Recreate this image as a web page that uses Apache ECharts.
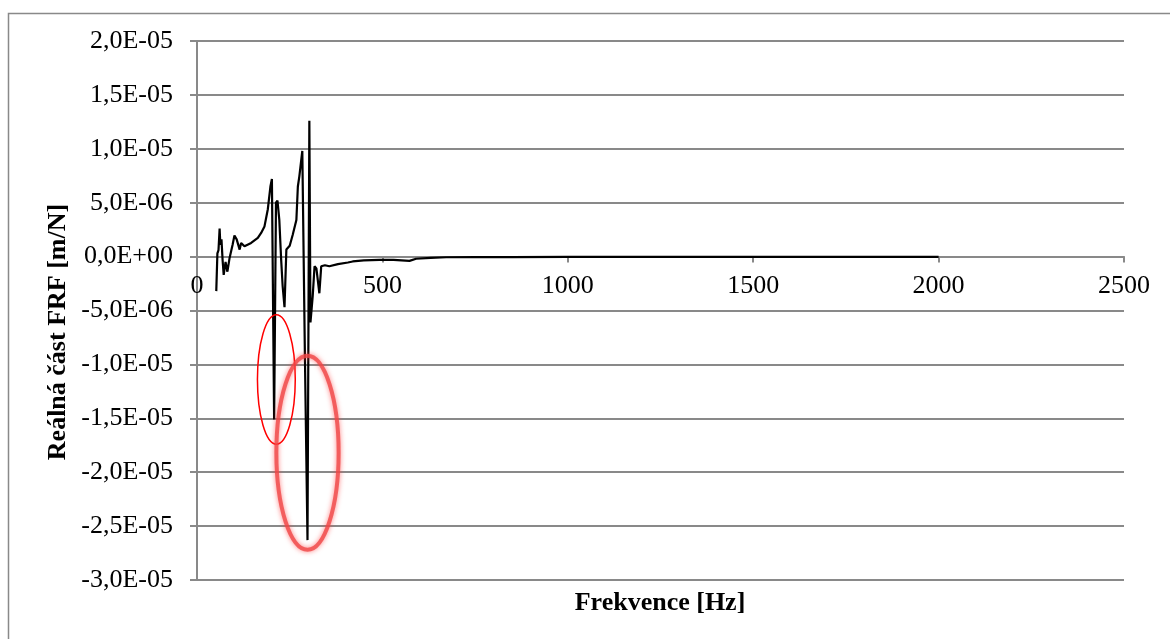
<!DOCTYPE html>
<html>
<head>
<meta charset="utf-8">
<script src="https://cdn.jsdelivr.net/npm/echarts@6/dist/echarts.min.js"></script>
<style>
html,body{margin:0;padding:0;background:#fff;}
#main{width:1170px;height:639px;}
</style>
</head>
<body>
<div id="main"></div>
<script>
// Frequency [Hz]
const freqHz = [52, 55, 58, 61, 63, 66, 69, 72, 77, 82,
  88, 96, 101, 107, 110, 115, 119, 128, 146, 164,
  173, 182, 191, 198, 202, 208, 213, 217, 222, 227,
  231, 236, 241, 250, 258, 268, 272, 276, 284, 291,
  298, 303, 306, 312, 317, 322, 330, 335, 345, 357,
  380, 407, 420, 450, 492, 530, 573, 591, 630, 672,
  750, 850, 1000, 1200, 1400, 1600, 1800, 2000];
// Real part of FRF, in units of 1e-6 m/N
const realPartMicro = [-3.2, 0.3, 0.6, 2.6, 1.1, 1.6, -0.3, -1.7, -0.5, -1.4,
  -0.1, 1.1, 1.95, 1.6, 1.58, 0.65, 1.27, 0.96, 1.27, 1.73,
  2.2, 2.8, 4.4, 6.5, 7.2, -15.1, 5.0, 5.2, 3.4, -0.3,
  -2.75, -4.7, 0.65, 1.0, 2.0, 3.4, 6.5, 7.45, 9.8, -9.2,
  -26.3, 12.6, -6.1, -3.7, -0.9, -1.1, -3.4, -0.9, -0.8, -0.9,
  -0.7, -0.55, -0.45, -0.35, -0.3, -0.3, -0.4, -0.2, -0.12, -0.06,
  -0.05, -0.04, -0.03, -0.03, -0.03, -0.03, -0.03, -0.03];
const xTitle = 'Frekvence [Hz]';
const yTitle = 'Reálná část FRF [m/N]';
const yMin = -3e-5, yMax = 2e-5, yStep = 5e-6;
// annotation ellipses: [centerFreq, centerValue(1e-6), radiusFreq, radiusValue(1e-6)]
const marks = [[214, -11.4, 51, 6.0], [298, -18.2, 84, 9.0]];

const seriesData = freqHz.map((f, i) => [f, realPartMicro[i] * 1e-6]);

function fmtY(v) {
  const s = v.toExponential(1).split('e');
  const m = s[0].replace('.', ',');
  const e = parseInt(s[1], 10);
  const sign = e < 0 ? '-' : '+';
  const ea = Math.abs(e);
  return m + 'E' + sign + (ea < 10 ? '0' + ea : '' + ea);
}

const W = 1170, H = 639;
const gridL = 197, gridR = 46, gridT = 41, gridB = 59;
const plotH = H - gridT - gridB;
// put the x axis on the y = 0 line
const xOffset = -plotH * (0 - yMin) / (yMax - yMin);

const gray = '#898989';
const font = '"Liberation Serif", "Times New Roman", serif';
const chart = echarts.init(document.getElementById('main'));
chart.setOption({
  animation: false,
  backgroundColor: '#fff',
  grid: {left: gridL, right: gridR, top: gridT, bottom: gridB},
  xAxis: {
    type: 'value', min: 0, max: 2500, interval: 500, position: 'bottom', offset: xOffset,
    axisLine: {onZero: false, lineStyle: {color: gray, width: 2}},
    axisTick: {show: true, length: 6, lineStyle: {color: gray, width: 2}},
    axisLabel: {color: '#000', fontFamily: font, fontSize: 26, margin: 17, formatter: v => String(v)},
    splitLine: {show: false}
  },
  yAxis: {
    type: 'value', min: yMin, max: yMax, interval: yStep,
    axisLine: {show: true, onZero: false, lineStyle: {color: gray, width: 2}},
    axisTick: {show: true, length: 7, lineStyle: {color: gray, width: 2}},
    axisLabel: {color: '#000', fontFamily: font, fontSize: 26, margin: 24, formatter: fmtY},
    splitLine: {show: true, lineStyle: {color: gray, width: 2}}
  },
  series: [{
    type: 'line', data: seriesData, showSymbol: false, symbol: 'none',
    lineStyle: {color: '#000', width: 2.2}, z: 3
  }]
});

const els = [
  {type: 'rect', shape: {x: 8.5, y: 13.5, width: 1300, height: 800},
   style: {fill: 'none', stroke: gray, lineWidth: 1.5}, z: -1, silent: true},
  {type: 'text', x: 660, y: 603,
   style: {text: xTitle, font: 'bold 26px ' + font, fill: '#000', align: 'center', verticalAlign: 'middle', textAlign: 'center', textVerticalAlign: 'middle'}},
  {type: 'text', x: 58, y: 332, rotation: Math.PI / 2,
   style: {text: yTitle, font: 'bold 26px ' + font, fill: '#000', align: 'center', verticalAlign: 'middle', textAlign: 'center', textVerticalAlign: 'middle'}}
];
marks.forEach((m, i) => {
  const c = chart.convertToPixel({gridIndex: 0}, [m[0], m[1] * 1e-6]);
  const e = chart.convertToPixel({gridIndex: 0}, [m[0] + m[2], (m[1] + m[3]) * 1e-6]);
  const rx = Math.abs(e[0] - c[0]), ry = Math.abs(e[1] - c[1]);
  els.push({
    type: 'ellipse', shape: {cx: c[0], cy: c[1], rx: rx, ry: ry}, z: 10, silent: true,
    style: i === 0
      ? {fill: 'none', stroke: '#ff0000', lineWidth: 1.5}
      : {fill: 'none', stroke: 'rgba(240,70,70,0.8)', lineWidth: 4, shadowBlur: 5, shadowColor: 'rgba(255,60,60,0.8)'}
  });
});
chart.setOption({graphic: {elements: els}});
</script>
</body>
</html>
